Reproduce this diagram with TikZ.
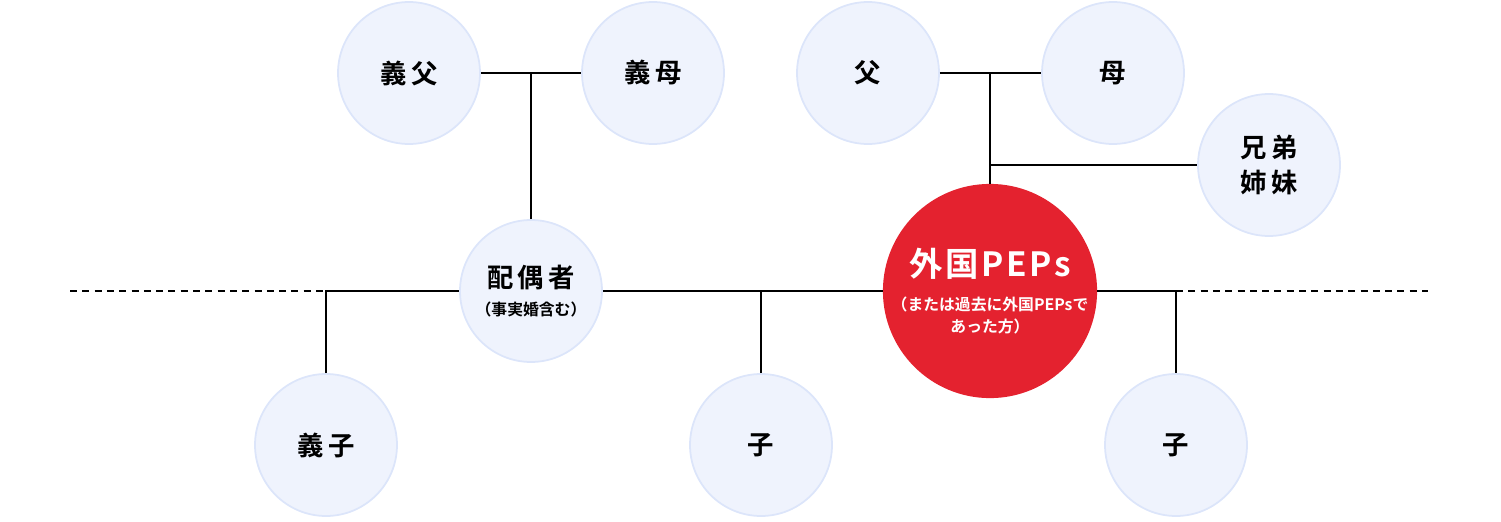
\documentclass[tikz,border=0pt]{standalone}
\usepackage{fontspec}
\setmainfont{Noto Sans CJK JP}
\newfontfamily\jpbold[LetterSpace=16]{Noto Sans CJK JP Bold}
\newfontfamily\jptitle[LetterSpace=8]{Noto Sans CJK JP Bold}
\newfontfamily\jpsmall{Noto Sans CJK JP Bold}
\newcommand{\kinnote}{\jpsmall\fontsize{9}{12}\selectfont}
\usepackage{xcolor}
\definecolor{kinfill}{RGB}{239,243,253}
\definecolor{kinline}{RGB}{220,229,250}
\definecolor{pepred}{RGB}{228,34,47}
\usetikzlibrary{calc}

\begin{document}
\begin{tikzpicture}[
  kin/.style={circle, draw=kinline, line width=1pt, fill=kinfill, minimum size=2.84cm, inner sep=0pt, align=center, font=\jpbold\fontsize{15}{20}\selectfont},
  pep/.style={circle, fill=pepred, minimum size=4.28cm, inner sep=0pt, align=center, text=white, font=\jpsmall\fontsize{9}{12.5}\selectfont},
  link/.style={line width=1.2pt, draw=black},
  dashlink/.style={line width=1.2pt, draw=black, dash pattern=on 4pt off 3pt}
]
\useasboundingbox (0,0) rectangle (30.02,-10.42);

% Parents
\node[kin] (gfa) at (8.18, -1.46) {義父};
\node[kin] (gmo) at (13.06, -1.46) {義母};
\node[kin] (fa) at (17.36, -1.46) {父};
\node[kin] (mo) at (22.26, -1.46) {母};
\node[kin] (sib) at (25.38, -3.30) {兄弟\\姉妹};

% Couple
\node[kin] (spouse) at (10.62, -5.82) {配偶者\\[-4pt]\kinnote（事実婚含む）};
\node[pep] (pep) at (19.80, -5.82) {{\jptitle\fontsize{19}{24}\selectfont 外国PEPs}\\[7pt]
  （または過去に外国PEPsで\\あった方）};

% Children
\node[kin] (inlaw) at (6.52, -8.90) {義子};
\node[kin] (kid1) at (15.22, -8.90) {子};
\node[kin] (kid2) at (23.52, -8.90) {子};

% Line ends
\coordinate (lend) at (1.40, -5.82);
\coordinate (rend) at (28.56, -5.82);

% Links
\draw[link] (gfa.east) -- (gmo.west);
\draw[link] (spouse.north) -- (spouse.north |- gfa.east);
\draw[link] (fa.east) -- (mo.west);
\draw[link] (pep.north) -- (pep.north |- fa.east);
\draw[link] (pep.north |- sib.west) -- (sib.west);

\draw[dashlink] (lend) -- (inlaw.north |- spouse.west);
\draw[link] (inlaw.north) |- (spouse.west);
\draw[link] (spouse.east) -- (pep.west);
\draw[link] (kid1.north) -- (kid1.north |- pep.west);
\draw[link] (pep.east) -| (kid2.north);
\draw[dashlink] (kid2.north |- pep.east) -- (rend);

\end{tikzpicture}
\end{document}
